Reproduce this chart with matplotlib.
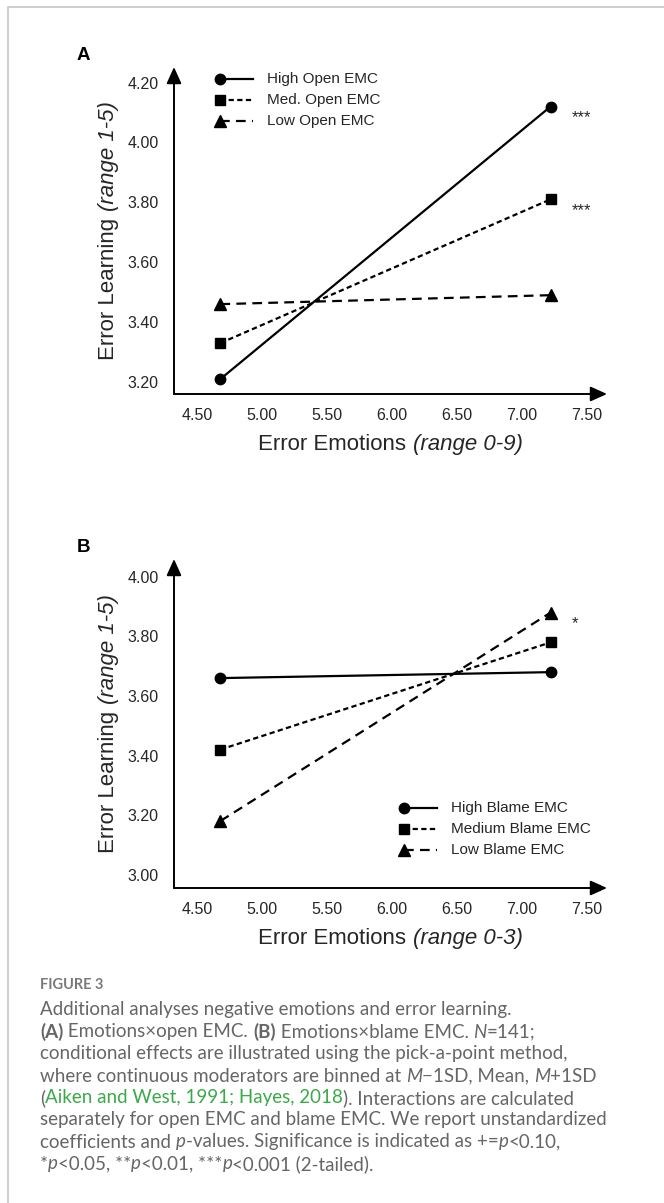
import numpy as np
import matplotlib.pyplot as plt
from matplotlib.lines import Line2D

W, H = 664, 1203

# data
x_levels = [4.68, 7.22]
x_ticks = [4.5, 5.0, 5.5, 6.0, 6.5, 7.0, 7.5]

open_labels = ['High Open EMC', 'Med. Open EMC', 'Low Open EMC']
open_high = [3.21, 4.12]
open_med = [3.33, 3.81]
open_low = [3.46, 3.49]
open_sig = ['***', '***', '']
open_yticks = [3.2, 3.4, 3.6, 3.8, 4.0, 4.2]

blame_labels = ['High Blame EMC', 'Medium Blame EMC', 'Low Blame EMC']
blame_high = [3.66, 3.68]
blame_med = [3.42, 3.78]
blame_low = [3.18, 3.88]
blame_sig = ['', '', '*']
blame_yticks = [3.0, 3.2, 3.4, 3.6, 3.8, 4.0]

plt.rcParams['font.family'] = ['Liberation Sans', 'DejaVu Sans']
plt.rcParams['lines.scale_dashes'] = False

TXT = '#262626'
STYLES = [dict(ls='-', marker='o', ms=7.5),
          dict(ls=(0, (3.8, 2.4)), marker='s', ms=7),
          dict(ls=(0, (7, 4.5)), marker='^', ms=8.5)]

fig = plt.figure(figsize=(W / 100, H / 100), dpi=100)
renderer = fig.canvas.get_renderer()

# overlay in pixel coordinates for frame, legends, labels, caption
ov = fig.add_axes([0, 0, 1, 1], zorder=5)
ov.set_xlim(0, W)
ov.set_ylim(H, 0)
ov.axis('off')
ov.patch.set_alpha(0)


def px_axes(x0, y0, x1, y1):
    return fig.add_axes([x0 / W, 1 - y1 / H, (x1 - x0) / W, (y1 - y0) / H])


def run_width(s, **kw):
    t = ov.text(0, 0, s, **kw)
    w = t.get_window_extent(renderer=renderer).width
    t.remove()
    return w


def label_runs(cx, base, runs, vertical=False, **kw):
    # draw normal + italic pieces of an axis label, centred on cx
    widths = [run_width(s, style=st, **kw) for s, st in runs]
    pos = cx - sum(widths) / 2 if not vertical else cx + sum(widths) / 2
    for (s, st), w in zip(runs, widths):
        if vertical:
            ov.text(base, pos, s, style=st, rotation=90, rotation_mode='anchor',
                    ha='left', va='baseline', **kw)
            pos -= w
        else:
            ov.text(pos, base, s, style=st, ha='left', va='baseline', **kw)
            pos += w


def panel(box, ylim, series, labels, sig, yticks, xrange_txt, letter, leg_xy):
    ax = px_axes(*box)
    ax.set_xlim(4.323, 7.654)
    ax.set_ylim(*ylim)
    for s in ax.spines.values():
        s.set_visible(False)
    ax.patch.set_alpha(0)
    for arr_to in [(1, 0), (0, 1)]:
        ax.annotate('', xy=arr_to, xytext=(0, 0), xycoords='axes fraction',
                    annotation_clip=False,
                    arrowprops=dict(arrowstyle='-|>,head_length=1.0,head_width=0.45',
                                    color='k', lw=1.4, shrinkA=0, shrinkB=0))
    for ys, st, s in zip(series, STYLES, sig):
        ax.plot(x_levels, ys, color='k', lw=1.6, ls=st['ls'], marker=st['marker'],
                ms=st['ms'], clip_on=False)
        if s:
            ax.annotate(s, (x_levels[1], ys[1]), xytext=(15, -11), textcoords='offset points',
                        ha='left', va='baseline', fontsize=12, color=TXT)
    ax.set_xticks(x_ticks)
    ax.set_xticklabels(['%.2f' % v for v in x_ticks])
    ax.set_yticks(yticks)
    ax.set_yticklabels(['%.2f' % v for v in yticks])
    ax.tick_params(length=0, labelsize=11.5, colors=TXT)
    ax.tick_params(axis='x', pad=10)
    ax.tick_params(axis='y', pad=11)

    x0, y0, x1, y1 = box
    label_runs((x0 + x1) / 2, y1 + 56,
               [('Error Emotions ', 'normal'), ('(range ' + xrange_txt + ')', 'italic')],
               fontsize=16, color=TXT)
    label_runs((y0 + y1) / 2, 114,
               [('Error Learning ', 'normal'), ('(range 1-5)', 'italic')],
               vertical=True, fontsize=16, color=TXT)

    ov.text(77, y0 - 12, letter, fontsize=13.5, fontweight='bold', color='k',
            ha='left', va='center')
    lx, ly = leg_xy
    for i, (lab, st) in enumerate(zip(labels, STYLES)):
        yy = ly + i * 21
        ov.add_line(Line2D([lx, lx + 33], [yy, yy], color='k', lw=1.6, ls=st['ls']))
        ov.plot([lx], [yy], color='k', marker=st['marker'], ms=st['ms'])
        ov.text(lx + 47, yy, lab, fontsize=11, color=TXT, ha='left', va='center')
    return ax


panel((174, 67, 607, 394), (3.16, 4.252), [open_high, open_med, open_low],
      open_labels, open_sig, open_yticks, '0-9', 'A', (220, 79))
panel((174, 559, 607, 888), (2.955, 4.06), [blame_high, blame_med, blame_low],
      blame_labels, blame_sig, blame_yticks, '0-3', 'B', (404, 808))

# frame around the figure
ov.plot([8, 8, W + 5], [H + 5, 6.5, 6.5], color='#c6c6c6', lw=1.2, clip_on=False)

# caption
CAP = '#666666'
GREEN = '#3da84a'
CAP_FONT = ['Lato', 'DejaVu Sans']
ov.text(40, 985, 'FIGURE 3', fontsize=10.5, fontweight='bold', color='#7a7a7a',
        family=CAP_FONT, va='center')

caption = [
    [('Additional analyses negative emotions and error learning.', 'n')],
    [('(A)', 'b'), (' Emotions\u00d7open EMC. ', 'n'), ('(B)', 'b'),
     (' Emotions\u00d7blame EMC. ', 'n'), ('N', 'i'), ('=141;', 'n')],
    [('conditional effects are illustrated using the pick-a-point method,', 'n')],
    [('where continuous moderators are binned at ', 'n'), ('M', 'i'),
     ('\u22121SD, Mean, ', 'n'), ('M', 'i'), ('+1SD', 'n')],
    [('(', 'n'), ('Aiken and West, 1991; Hayes, 2018', 'g'),
     ('). Interactions are calculated', 'n')],
    [('separately for open EMC and blame EMC. We report unstandardized', 'n')],
    [('coefficients and ', 'n'), ('p', 'i'), ('-values. Significance is indicated as +=', 'n'),
     ('p', 'i'), ('<0.10,', 'n')],
    [('*', 'n'), ('p', 'i'), ('<0.05, **', 'n'), ('p', 'i'), ('<0.01, ***', 'n'),
     ('p', 'i'), ('<0.001 (2-tailed).', 'n')],
]

for k, line in enumerate(caption):
    x = 40
    y = 1010 + k * 22
    for s, kind in line:
        kw = dict(fontsize=13.5, color=CAP, family=CAP_FONT, va='center', ha='left')
        if kind == 'b':
            kw['fontweight'] = 'bold'
        if kind == 'i':
            kw['style'] = 'italic'
        if kind == 'g':
            kw['color'] = GREEN
        t = ov.text(x, y, s, **kw)
        x += t.get_window_extent(renderer=renderer).width

fig.savefig('out.png', dpi=100)
